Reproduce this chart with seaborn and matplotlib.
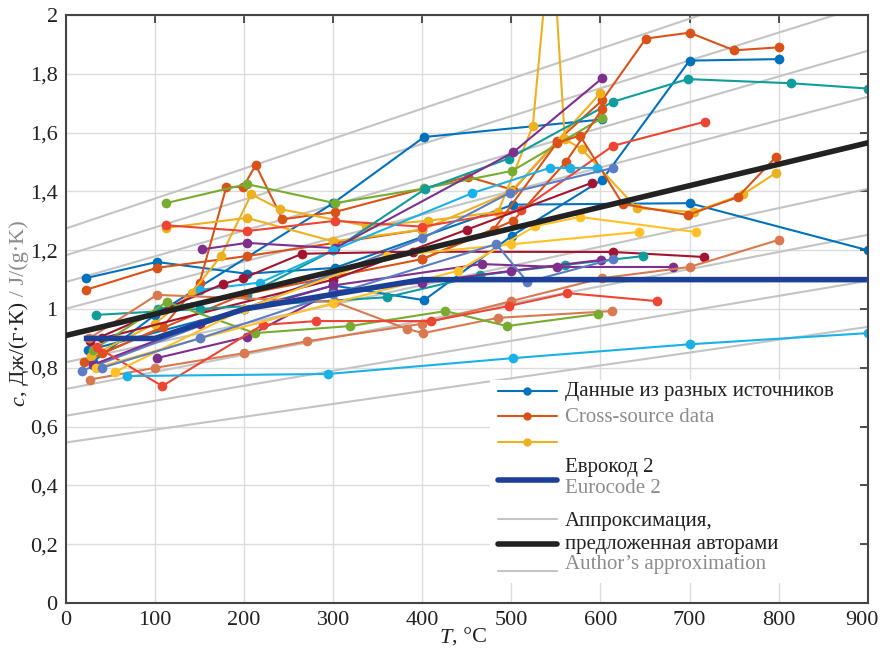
import numpy as np
import pandas as pd
import matplotlib
matplotlib.use("Agg")
import matplotlib.pyplot as plt
import matplotlib.transforms as mtransforms
from matplotlib.lines import Line2D
from matplotlib.patches import Rectangle
from matplotlib.ticker import FuncFormatter
import seaborn as sns

# --- measured series (T in degC, c in J/(g K)) ---
t_a = [22, 102, 203, 302, 502, 700, 900]
c_a = [1.105, 1.16, 1.12, 1.14, 1.355, 1.36, 1.20]
t_b = [30, 100, 300, 402, 602]
c_b = [0.82, 0.98, 1.36, 1.585, 1.645]
t_c = [25, 200, 300, 402, 501, 602, 700, 800]
c_c = [0.86, 1.0, 1.08, 1.03, 1.25, 1.44, 1.845, 1.85]
t_d = [22, 102, 203, 302, 400]
c_d = [1.065, 1.14, 1.18, 1.225, 1.27]
t_e = [20, 109, 150, 180, 199, 213, 243, 302, 451, 502, 551, 602, 651, 700, 750, 800]
c_e = [0.82, 0.94, 1.09, 1.415, 1.415, 1.49, 1.305, 1.33, 1.45, 1.405, 1.57, 1.71, 1.92, 1.94, 1.88, 1.89]
t_f = [28, 100, 141, 174, 208, 240, 337, 406, 485, 524, 545, 560, 579, 641, 705, 760, 797]
c_f = [0.84, 0.95, 1.054, 1.18, 1.39, 1.34, 1.283, 1.30, 1.33, 1.622, 2.3, 1.578, 1.544, 1.343, 1.33, 1.39, 1.463]
t_g = [112, 203, 300, 400, 500, 600]
c_g = [1.276, 1.31, 1.23, 1.27, 1.40, 1.735]
t_h = [112, 203, 302, 400, 511, 614, 717]
c_h = [1.285, 1.265, 1.30, 1.28, 1.337, 1.555, 1.637]
t_i = [112, 203, 302, 402, 501, 602]
c_i = [1.36, 1.425, 1.36, 1.41, 1.47, 1.65]
t_j = [103, 203, 300, 403, 497, 614, 698, 814, 900]
c_j = [1.0, 1.048, 1.2, 1.408, 1.512, 1.705, 1.782, 1.768, 1.75]
t_k = [153, 203, 302, 502, 602]
c_k = [1.203, 1.225, 1.207, 1.533, 1.785]
t_m = [40, 200, 400, 502, 561, 602]
c_m = [0.85, 1.05, 1.17, 1.30, 1.50, 1.68]
t_n = [400, 480, 551, 577, 625, 698, 754, 797]
c_n = [1.17, 1.27, 1.565, 1.59, 1.357, 1.32, 1.38, 1.517]
t_o = [150, 218, 300, 456, 543, 566, 596]
c_o = [1.065, 1.09, 1.2, 1.394, 1.48, 1.48, 1.48]
t_p = [18, 200, 300, 400, 498, 614]
c_p = [0.79, 1.0, 1.12, 1.24, 1.395, 1.48]
t_q = [27, 176, 199, 265, 390, 614, 716]
c_q = [0.89, 1.085, 1.105, 1.188, 1.195, 1.194, 1.177]
t_s = [40, 300, 450, 591]
c_s = [0.90, 1.1, 1.27, 1.43]
t_t = [34, 150, 360, 465, 560, 648]
c_t = [0.98, 1.0, 1.04, 1.115, 1.15, 1.18]
t_u = [30, 150, 300, 467, 551, 681]
c_u = [0.81, 0.95, 1.08, 1.153, 1.143, 1.143]
t_v = [102, 203, 300, 400, 500, 601]
c_v = [0.833, 0.905, 1.06, 1.09, 1.13, 1.167]
t_w = [27, 100, 200, 270, 400, 500, 602, 700, 800]
c_w = [0.76, 0.80, 0.85, 0.89, 0.95, 1.027, 1.105, 1.143, 1.235]
t_x = [26, 102, 302, 383, 401, 485, 613]
c_x = [0.90, 1.048, 1.024, 0.932, 0.918, 0.97, 0.993]
t_y = [30, 113, 212, 319, 426, 495, 597]
c_y = [0.86, 1.024, 0.918, 0.942, 0.993, 0.942, 0.983]
t_z = [35, 108, 221, 281, 410, 497, 563, 663]
c_z = [0.87, 0.738, 0.946, 0.959, 0.959, 1.01, 1.054, 1.027]
t_aa = [68, 294, 502, 700, 900]
c_aa = [0.772, 0.779, 0.833, 0.88, 0.918]
t_ab = [34, 150, 300, 440, 527, 577, 707]
c_ab = [0.80, 0.90, 1.02, 1.13, 1.282, 1.313, 1.262]
t_ac = [55, 200, 360, 500, 643]
c_ac = [0.786, 1.0, 1.18, 1.22, 1.262]
t_ad = [40, 150, 300, 483, 518, 614]
c_ad = [0.80, 0.9, 1.05, 1.221, 1.092, 1.17]

# Eurocode 2 and the authors' approximation
eurocode_t = [20, 100, 200, 400, 900]
eurocode_c = [0.9, 0.9, 1.0, 1.1, 1.1]
approx_t = [0, 900]
approx_a, approx_b = 0.91, 0.000728
approx_mult = [0.6, 0.7, 0.8, 0.9, 1.1, 1.2, 1.3, 1.4]

x_ticks = [0, 100, 200, 300, 400, 500, 600, 700, 800, 900]
y_ticks = [0, 0.2, 0.4, 0.6, 0.8, 1.0, 1.2, 1.4, 1.6, 1.8, 2.0]

blue, red, yellow = "#0072BD", "#D95319", "#EDB120"
purple, green, cyan = "#7E2F8E", "#77AC30", "#1AB2E6"
darkred, teal, salmon = "#A2142F", "#0E9C9C", "#D9794F"
steel, bred, gold = "#5B7DC5", "#EE4433", "#FFC125"

series = [
    ("a", t_a, c_a, blue), ("b", t_b, c_b, blue), ("c", t_c, c_c, blue),
    ("d", t_d, c_d, red), ("e", t_e, c_e, red), ("f", t_f, c_f, yellow),
    ("g", t_g, c_g, yellow), ("h", t_h, c_h, bred), ("i", t_i, c_i, green),
    ("j", t_j, c_j, teal), ("k", t_k, c_k, purple), ("m", t_m, c_m, red),
    ("n", t_n, c_n, red), ("o", t_o, c_o, cyan), ("p", t_p, c_p, steel),
    ("q", t_q, c_q, darkred), ("s", t_s, c_s, darkred), ("t", t_t, c_t, teal),
    ("u", t_u, c_u, purple), ("v", t_v, c_v, purple), ("w", t_w, c_w, salmon),
    ("x", t_x, c_x, salmon), ("y", t_y, c_y, green), ("z", t_z, c_z, bred),
    ("aa", t_aa, c_aa, cyan), ("ab", t_ab, c_ab, gold), ("ac", t_ac, c_ac, gold),
    ("ad", t_ad, c_ad, steel),
]

df = pd.concat([pd.DataFrame({"T": t, "c": c, "series": name}) for name, t, c, _ in series],
               ignore_index=True)
palette = {name: col for name, _, _, col in series}

sns.set_theme(style="white")
plt.rcParams["font.family"] = ["Liberation Serif", "DejaVu Serif"]

fig = plt.figure(figsize=(8.8, 6.54), dpi=100)
ax = fig.add_axes([0.075, 0.078, 0.911, 0.899])

# gray band lines and grid
ax.set_axisbelow(True)
ax.grid(True, color="#DCDCDC", lw=1)
tt = np.array(approx_t)
for m in approx_mult:
    ax.plot(tt, m * (approx_a + approx_b * tt), color="#C4C4C4", lw=1.5, zorder=1)

sns.lineplot(data=df, x="T", y="c", hue="series", palette=palette, units="series",
             estimator=None, sort=False, marker="o", markersize=7, markeredgewidth=0,
             linewidth=1.5, legend=False, ax=ax, zorder=2)

ax.plot(eurocode_t, eurocode_c, color="#1C3F98", lw=4, zorder=3, solid_capstyle="butt")
ax.plot(tt, approx_a + approx_b * tt, color="#222222", lw=4, zorder=3)

ax.set_xlim(0, 900)
ax.set_ylim(0, 2)
ax.set_xticks(x_ticks)
ax.set_yticks(y_ticks)
ax.yaxis.set_major_formatter(FuncFormatter(lambda v, p: f"{v:g}".replace(".", ",")))
ax.tick_params(direction="in", top=True, right=True, length=6, width=1.2,
               labelsize=16, colors="#333333", labelcolor="#222222", pad=6)
for sp in ax.spines.values():
    sp.set_color("#444444")
    sp.set_linewidth(1.5)
ax.set_xlabel("")
ax.set_ylabel("")

# nudge the 900 label so it stays inside the figure
fig.canvas.draw()
for tick in ax.xaxis.get_major_ticks():
    if abs(tick.get_loc() - 900) < 1e-6:
        tick.label1.set_transform(tick.label1.get_transform()
                                  + mtransforms.ScaledTranslation(-6 / 100, 0,
                                                                  fig.dpi_scale_trans))

# axis labels
gray_txt = "#8C8C8C"
tx = ax.text(0.481, -0.068, "T", transform=ax.transAxes, fontsize=16, style="italic",
             ha="right", va="baseline", color="#222222")
ax.annotate(", °C", xy=(1, 0), xycoords=tx, fontsize=16, ha="left", va="bottom",
            color="#222222")
ty = ax.text(-0.058, 0.335, "c", transform=ax.transAxes, fontsize=16, style="italic",
             rotation=90, ha="center", va="bottom", color="#222222")
ty2 = ax.annotate(", Дж/(г·К)", xy=(0.5, 1), xycoords=ty, fontsize=16, rotation=90,
                  ha="center", va="bottom", color="#222222")
ax.annotate(" / J/(g·K)", xy=(0.5, 1), xycoords=ty2, fontsize=16, rotation=90,
            ha="center", va="bottom", color=gray_txt)

# legend panel
ax.add_patch(Rectangle((0.529, 0.034), 0.461, 0.345, transform=ax.transAxes,
                       facecolor="white", edgecolor="none", zorder=5))
x0, x1, xt = 0.539, 0.612, 0.622
leg_rows = [
    (0.3605, blue, 1.5, "o"), (0.318, red, 1.5, "o"), (0.274, yellow, 1.5, "o"),
    (0.209, "#1C3F98", 4, None), (0.143, "#C4C4C4", 1.5, None),
    (0.100, "#222222", 4, None), (0.054, "#C4C4C4", 1.5, None),
]
for yy, col, lw, mk in leg_rows:
    ax.add_line(Line2D([x0, x1], [yy, yy], transform=ax.transAxes, color=col, lw=lw,
                       zorder=6))
    if mk:
        ax.add_line(Line2D([(x0 + x1) / 2], [yy], transform=ax.transAxes, color=col,
                           marker=mk, markersize=6, markeredgewidth=0, zorder=7))
leg_text = [
    (0.3605, "Данные из разных источников", "#222222"),
    (0.315, "Cross-source data", gray_txt),
    (0.231, "Еврокод 2", "#222222"),
    (0.194, "Eurocode 2", gray_txt),
    (0.138, "Аппроксимация,", "#222222"),
    (0.100, "предложенная авторами", "#222222"),
    (0.065, "Author’s approximation", gray_txt),
]
for yy, s, col in leg_text:
    ax.text(xt, yy, s, transform=ax.transAxes, fontsize=15, color=col, ha="left",
            va="center", zorder=7)

fig.savefig("out.png", dpi=100)
